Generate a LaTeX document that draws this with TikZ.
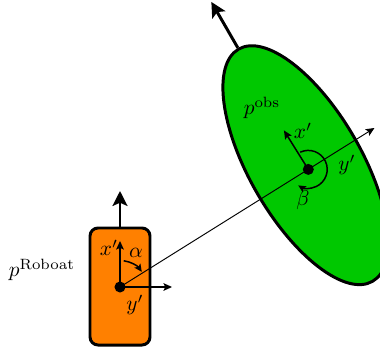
\documentclass[tikz,border=0pt]{standalone}
\usetikzlibrary{arrows.meta,shapes.geometric,calc}
\definecolor{robotorange}{RGB}{255,128,0}
\definecolor{obsgreen}{RGB}{0,200,0}
\tikzset{
  robotbox/.style={draw=black,line width=1.4pt,fill=robotorange,rounded corners=3.8pt,
    minimum width=28.2pt,minimum height=55pt,inner sep=0pt},
  obsshape/.style={ellipse,draw=black,line width=1.4pt,fill=obsgreen,
    minimum width=126pt,minimum height=52.6pt,inner sep=0pt,rotate=120},
  centerdot/.style={circle,fill=black,minimum size=5.2pt,inner sep=0pt},
  heavyarrow/.style={line width=1.4pt,-{Stealth[length=7pt,width=7pt,inset=1.5pt]}},
  axisarrow/.style={line width=0.7pt,-{Stealth[length=4pt,width=3.6pt,inset=0.8pt]}},
  linkarrow/.style={line width=0.45pt,-{Stealth[length=4pt,width=3.6pt,inset=0.8pt]}},
  anglearrow/.style={line width=0.7pt,-{Stealth[length=3.6pt,width=3.4pt,inset=0.8pt]}},
  lbl/.style={inner sep=0pt}
}
\begin{document}
\begin{tikzpicture}[x=0.47pt,y=0.47pt]
\useasboundingbox (0,0) rectangle (380,347);
\clip (0,0) rectangle (380,347);
% robot
\node[robotbox] (robot) at (120,60.5) {};
\node[centerdot] (rdot) at (120,60) {};
\coordinate (rhead) at (120,156);
\draw[heavyarrow] (robot.north) -- (rhead);
% obstacle
\node[obsshape] (obs) at (305.6,181.8) {};
\node[centerdot] (odot) at (308.3,177.6) {};
\coordinate (ohead) at ($(obs.east)+(120:53)$);
\draw[heavyarrow] (obs.east) -- (ohead);
% link line
\coordinate (lend) at ($(rdot.center)+(32:300)$);
\draw[linkarrow] (rdot.center) -- (lend);
% robot axes
\coordinate (rx) at (120,106);
\coordinate (ry) at (172,60);
\draw[axisarrow] (rdot.center) -- (rx);
\draw[axisarrow] (rdot.center) -- (ry);
\draw[anglearrow] ($(rdot.center)+(82:26.5)$) arc[start angle=82,end angle=35,radius=12.5pt];
% obstacle axes
\coordinate (ox) at ($(odot.center)+(122:46)$);
\draw[axisarrow] (odot.center) -- (ox);
\draw[anglearrow] ($(odot.center)+(115:19)$) arc[start angle=115,end angle=-122,radius=8.9pt];
% labels
\node[lbl] (lrob) at (42,77) {$p^{\mathrm{Roboat}}$};
\node[lbl] (lrx) at (109,99) {$x'$};
\node[lbl] (lalpha) at (136,94) {$\alpha$};
\node[lbl] (lry) at (135,42) {$y'$};
\node[lbl] (lobs) at (262,239) {$p^{\mathrm{obs}}$};
\node[lbl] (lox) at (303,216) {$x'$};
\node[lbl] (loy) at (347,182) {$y'$};
\node[lbl] (lbeta) at (303,147) {$\beta$};
\end{tikzpicture}
\end{document}
